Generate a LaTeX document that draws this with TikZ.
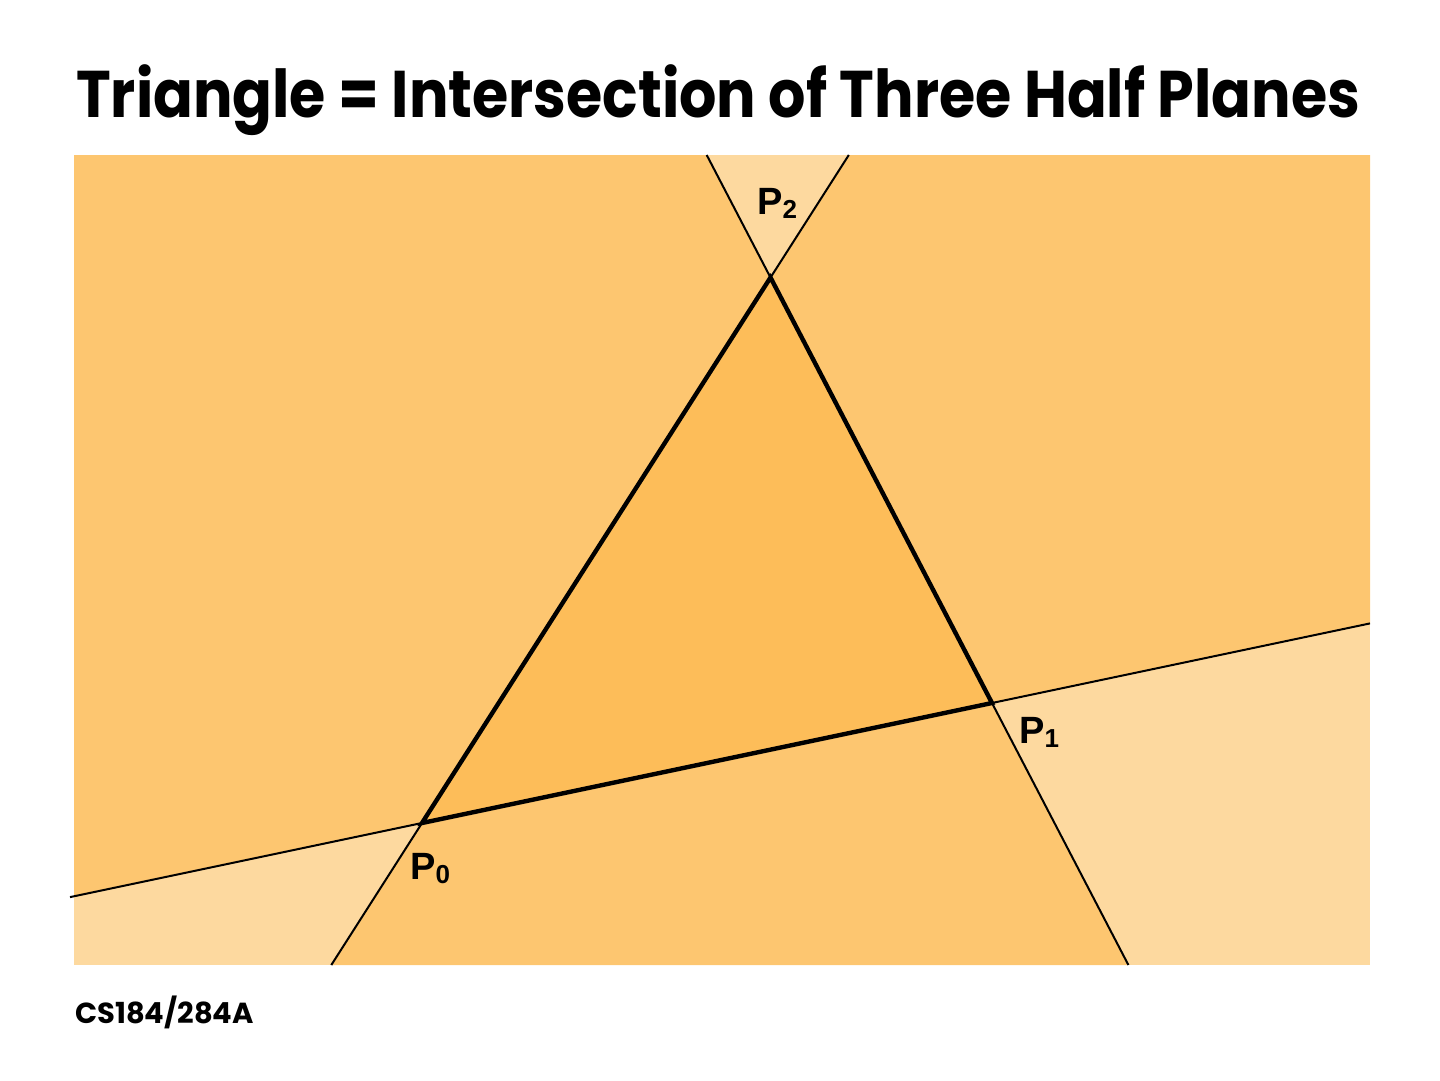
\documentclass[tikz,border=0pt]{standalone}
\usepackage{fontspec}
\setmainfont{Liberation Sans}
\newfontfamily\titlefont{Poppins}[UprightFont=* Bold]
\usetikzlibrary{calc}
\definecolor{lightor}{HTML}{FDD99F}
\definecolor{midor}{HTML}{FDC670}
\definecolor{darkor}{HTML}{FDBD59}
\tikzset{
  thinline/.style={draw=black, line width=2pt},
  thickline/.style={draw=black, line width=4.4pt, line join=miter},
  ptlabel/.style={anchor=base west, inner sep=0pt, font=\fontsize{38}{38}\selectfont\bfseries},
}
\newcommand{\ptlab}[1]{P\raisebox{-4pt}{\fontsize{26}{26}\selectfont\bfseries #1}}
\newsavebox{\titlebox}
\begin{document}
\sbox{\titlebox}{\titlefont\fontsize{66}{66}\selectfont Triangle = Intersection of Three Half Planes}%
\pgfmathsetmacro{\tsx}{1284/\the\wd\titlebox}%
\begin{tikzpicture}[x=1pt,y=-1pt]
\useasboundingbox (0,0) rectangle (1440,1080);
% points
\coordinate (P0) at (422,823);
\coordinate (P1) at (992,703);
\coordinate (P2) at (770.5,277.5);
\coordinate (A) at (70,897.1);    % line P0P1 left end
\coordinate (AL) at (74,896.3);
\coordinate (B) at (1370,623.4);  % line P0P1 right end
\coordinate (C) at (331.3,965);   % line P0P2 bottom
\coordinate (D) at (848.8,155);   % line P0P2 top
\coordinate (E) at (706.7,155);   % line P1P2 top
\coordinate (F) at (1128.4,965);  % line P1P2 bottom
% fills
\fill[lightor] (74,155) rectangle (1370,965);
\fill[midor] (P0) -- (P2) -- (E) -- (74,155) -- (AL) -- cycle;
\fill[midor] (P2) -- (D) -- (1370,155) -- (B) -- (P1) -- cycle;
\fill[midor] (P0) -- (P1) -- (F) -- (C) -- cycle;
\fill[darkor] (P0) -- (P1) -- (P2) -- cycle;
% lines
\draw[thinline] (A) -- (B);
\draw[thinline] (C) -- (D);
\draw[thinline] (E) -- (F);
\draw[thickline] (P0) -- (P1) -- (P2) -- cycle;
% labels
\node[ptlabel] (L0) at (410,879) {\ptlab{0}};
\node[ptlabel] (L1) at (1019,743) {\ptlab{1}};
\node[ptlabel] (L2) at (757,214) {\ptlab{2}};
% title and footer
\node[anchor=base west, inner sep=0pt] (title) at (76,117) {\scalebox{\tsx}[1]{\usebox{\titlebox}}};
\node[anchor=base west, inner sep=0pt, font=\titlefont\fontsize{29}{29}\selectfont] (foot) at (75,1023) {CS184/284A};
\end{tikzpicture}
\end{document}
